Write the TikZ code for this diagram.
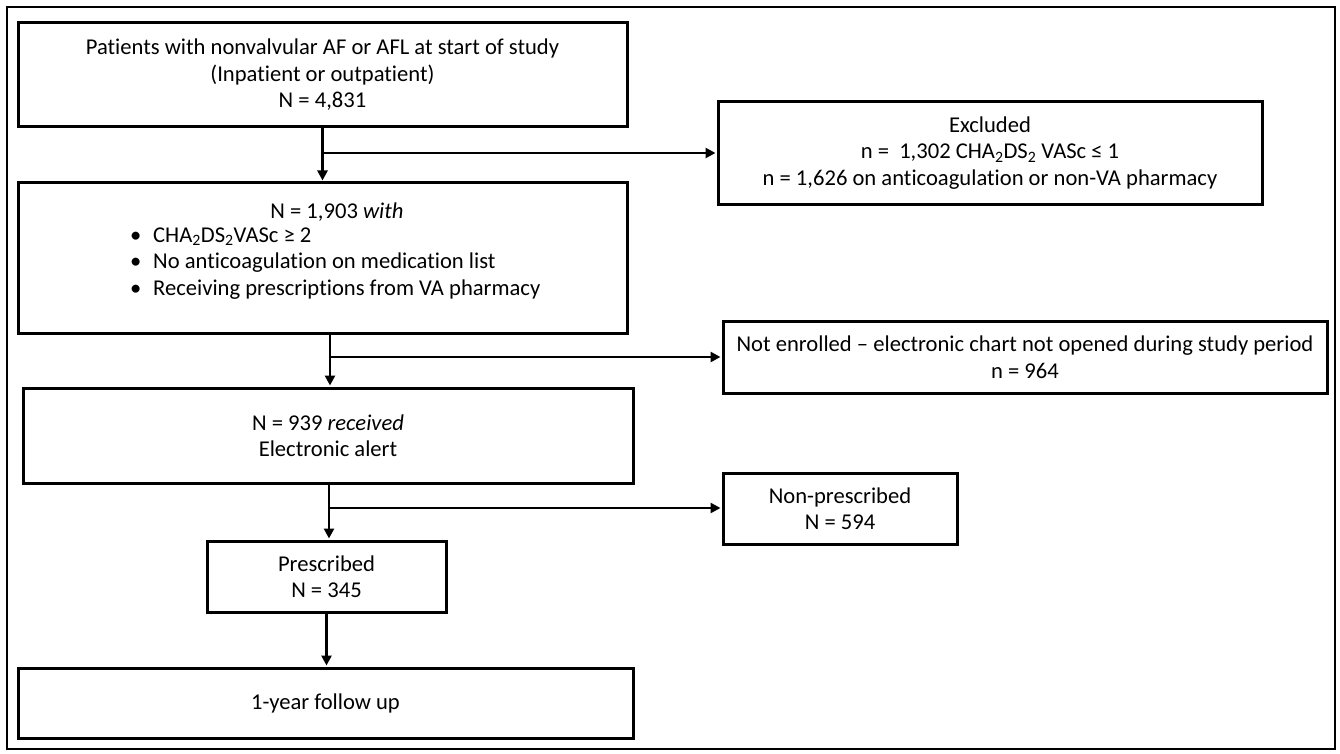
\documentclass[tikz,border=0pt]{standalone}
\usepackage{fontspec}
\setmainfont{Carlito}[Ligatures=NoCommon]
\usetikzlibrary{arrows.meta}
\begin{document}
\begin{tikzpicture}[x=1pt,y=-1pt,
  box/.style={draw=black, line width=3pt, inner sep=0pt, align=center,
    font=\fontsize{22.6}{26.5}\selectfont},
  txt/.style={inner sep=0pt, align=center, font=\fontsize{22.6}{26.5}\selectfont},
  ln/.style={line width=2.5pt},
  arr/.style={line width=2.5pt, -{Triangle[length=10pt,width=10pt]}, shorten >=1pt}]
\useasboundingbox (0,0) rectangle (1340,754);
\node[draw, line width=1.8pt, minimum width=1328, minimum height=742, inner sep=0pt] (frame) at (671,378) {};

\node[box, minimum width=609, minimum height=104] (b1) at (322.5,75)
  {Patients with nonvalvular AF or AFL at start of study\\(Inpatient or outpatient)\\N = 4,831};
\node[box, minimum width=609, minimum height=150] (b2) at (322.5,258) {};
\node[txt] (b2t) at (337,212) {N = 1,903 \textit{with}};
\node[txt, anchor=west, align=left] (b2l) at (130,263.5)
  {\makebox[23pt][l]{•}CHA\textsubscript{2}DS\textsubscript{2}VASc ≥ 2\\
   \makebox[23pt][l]{•}No anticoagulation on medication list\\
   \makebox[23pt][l]{•}Receiving prescriptions from VA pharmacy};
\node[box, minimum width=544, minimum height=102] (excl) at (990,153)
  {Excluded\\n =~ 1,302 CHA\textsubscript{2}DS\textsubscript{2} VASc ≤ 1\\n = 1,626 on anticoagulation or non-VA pharmacy};
\node[box, minimum width=610, minimum height=95] (b3) at (328,435.5)
  {N = 939 \textit{received}\\Electronic alert};
\node[box, minimum width=604, minimum height=72] (notenr) at (1025,357)
  {Not enrolled -- electronic chart not opened during study period\\n = 964};
\node[box, minimum width=239, minimum height=71] (presc) at (326.5,576.5)
  {Prescribed\\N = 345};
\node[box, minimum width=234, minimum height=71] (nonp) at (840,508.5)
  {Non-prescribed\\N = 594};
\node[box, minimum width=615, minimum height=70] (fup) at (325.5,703)
  {1-year follow up};

\coordinate (j1) at (322.5,153);
\coordinate (j2) at (330,357);
\coordinate (j3) at (329,508);
\draw[ln] (b1.south) -- (j1);
\draw[arr] (j1) -- (b2.north);
\draw[arr] (j1) -- (excl.west);
\draw[ln] (b2.south -| j2) -- (j2);
\draw[arr] (j2) -- (j2 |- b3.north);
\draw[arr] (j2) -- (notenr.west |- j2);
\draw[ln] (b3.south -| j3) -- (j3);
\draw[arr] (j3) -- (j3 |- presc.north);
\draw[arr] (j3) -- (nonp.west |- j3);
\draw[arr] (presc.south) -- (presc.south |- fup.north);
\end{tikzpicture}
\end{document}
